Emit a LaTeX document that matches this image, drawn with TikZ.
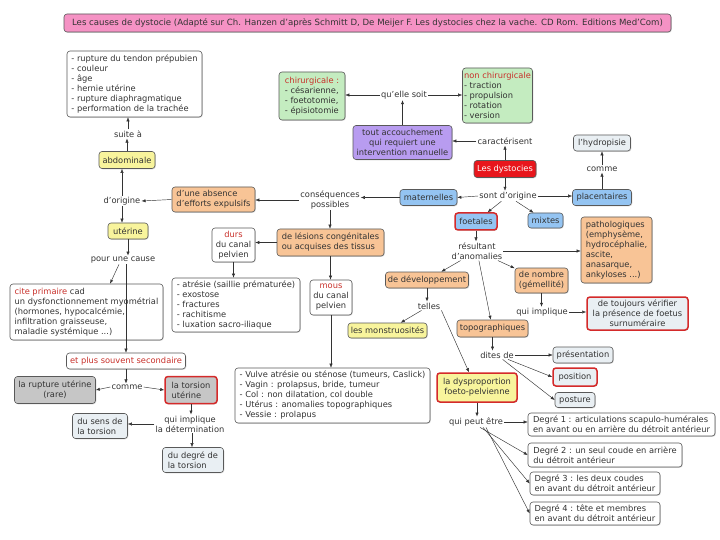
\documentclass[tikz,border=0pt]{standalone}
\usepackage{fontspec}
\setmainfont{DejaVu Sans}
\usetikzlibrary{arrows.meta,shadows}
\definecolor{cyel}{HTML}{F8F49C}
\definecolor{cora}{HTML}{F8C496}
\definecolor{cblu}{HTML}{94C4F2}
\definecolor{cgre}{HTML}{C4ECC0}
\definecolor{cpur}{HTML}{B89CF0}
\definecolor{cred}{HTML}{E8161C}
\definecolor{clig}{HTML}{E9EFF3}
\definecolor{cgra}{HTML}{C6C6C6}
\definecolor{cpink}{HTML}{F592C4}
\definecolor{ctxt}{HTML}{333333}
\definecolor{rtxt}{HTML}{C8302A}
\definecolor{rbrd}{HTML}{D42A2A}
\begin{document}
\begin{tikzpicture}[x=1pt,y=-1pt,
 font=\fontsize{8.3}{10}\selectfont, text=ctxt,
 box/.style={draw=black!65, line width=0.6pt, rounded corners=3pt, inner sep=1.5pt, align=center, fill=white,
   drop shadow={shadow xshift=0.8pt, shadow yshift=-0.8pt, opacity=0.3}},
 lbox/.style={box, align=left},
 sz/.style 2 args={minimum width=#1pt, minimum height=#2pt},
 hot/.style={draw=rbrd, line width=1.5pt},
 lk/.style={inner sep=1pt, align=center},
 arr/.style={-{Latex[length=4pt,width=3.2pt]}, draw=black!80, line width=0.45pt},
]
\useasboundingbox (0,0) rectangle (720,540);
\fill[white] (0,0) rectangle (720,540);

% title
\node[box, fill=cpink, sz={607}{18}, font=\fontsize{8.6}{10}\selectfont] (title) at (367.5,23) {Les causes de dystocie (Adapté sur Ch. Hanzen d'après Schmitt D, De Meijer F. Les dystocies chez la vache. CD Rom. Editions Med'Com)};

% left column
\node[lbox, sz={135}{66}] (list1) at (134.5,84) {- rupture du tendon prépubien\\- couleur\\- âge\\- hernie utérine\\- rupture diaphragmatique\\- performation de la trachée};
\node[lk] (suite) at (128,134) {suite à};
\node[box, fill=cyel, sz={56}{17}] (abdo) at (127,160) {abdominale};
\node[lk] (origine) at (122,201) {d'origine};
\node[box, fill=cyel, sz={40}{16}] (uterine) at (128,231) {utérine};
\node[lk] (cause) at (123,260) {pour une cause};
\node[lbox, sz={153}{56}] (cite) at (86.5,312) {\textcolor{rtxt}{cite primaire} cad\\un dysfonctionnement myométrial\\(hormones, hypocalcémie,\\infiltration graisseuse,\\maladie systémique ...)};
\node[box, sz={119}{16}] (second) at (126,361) {\textcolor{rtxt}{et plus souvent secondaire}};
\node[box, fill=cgra, sz={81}{27}] (rupture) at (55,390) {la rupture utérine\\(rare)};
\node[lk] (comme1) at (127,387) {comme};
\node[lbox, fill=cgra, hot, sz={52}{27}] (torsion) at (191,390) {la torsion\\utérine};
\node[lk] (impl1) at (190,424) {qui implique\\la détermination};
\node[lbox, fill=clig, sz={55}{25}] (sens) at (100,426) {du sens de\\la torsion};
\node[lbox, fill=clig, sz={61}{25}] (degre) at (193,460) {du degré de\\la torsion};

% middle
\node[lbox, fill=cora, sz={83}{25}] (absence) at (213.5,199.5) {d'une absence\\d'efforts expulsifs};
\node[lk] (conseq) at (330,200) {conséquences\\possibles};
\node[lbox, fill=cora, sz={107}{27}] (lesions) at (330.5,242.5) {de lésions congénitales\\ou acquises des tissus};
\node[box, sz={43}{34}] (durs) at (233.5,245) {\textcolor{rtxt}{durs}\\du canal\\pelvien};
\node[lbox, sz={128}{54}] (atresie) at (236,305) {- atrésie (saillie prématurée)\\- exostose\\- fractures\\- rachitisme\\- luxation sacro-iliaque};
\node[box, sz={42}{35}] (mous) at (331,297.5) {\textcolor{rtxt}{mous}\\du canal\\pelvien};
\node[lbox, sz={195}{55}] (vulve) at (332.5,395.5) {- Vulve atrésie ou sténose (tumeurs, Caslick)\\- Vagin : prolapsus, bride, tumeur\\- Col : non dilatation, col double\\- Utérus : anomalies topographiques\\- Vessie : prolapus};

% top
\node[lbox, fill=cgre, sz={66}{48}] (chir) at (312,96) {\textcolor{rtxt}{chirurgicale :}\\- césarienne,\\- foetotomie,\\- épisiotomie};
\node[lk] (quelle) at (404,95) {qu'elle soit};
\node[lbox, fill=cgre, sz={65}{55}] (nonchir) at (497.5,95.5) {\textcolor{rtxt}{non chirurgicale}\\- traction\\- propulsion\\- rotation\\- version};
\node[box, fill=cpur, sz={99}{34}] (tout) at (402.5,142.5) {tout accouchement\\qui requiert une\\intervention manuelle};
\node[lk] (caract) at (505,141) {caractérisent};
\node[box, fill=cred, text=white, sz={62}{17}] (dyst) at (505,169) {Les dystocies};
\node[box, fill=clig, sz={57}{16}] (hydro) at (602,143) {l'hydropisie};
\node[lk] (comme2) at (602,169) {comme};
\node[box, fill=cblu, sz={59}{16}] (placent) at (602,197.5) {placentaires};
\node[lk] (sontor) at (508,196) {sont d'origine};
\node[box, fill=cblu, sz={57}{16}] (matern) at (428.5,197.5) {maternelles};
\node[box, fill=cblu, hot, sz={42}{17}] (foet) at (476,221.5) {foetales};
\node[box, fill=cblu, sz={35}{15}] (mixtes) at (545.5,220.5) {mixtes};
\node[lk] (result) at (477,251) {résultant\\d'anomalies};
\node[lbox, fill=cora, sz={71}{66}] (patho) at (616.5,250) {pathologiques\\(emphysème,\\hydrocéphalie,\\ascite,\\anasarque,\\ankyloses ...)};
\node[box, fill=cora, sz={83}{16}] (devel) at (427,280) {de développement};
\node[box, fill=cora, sz={53}{25}] (nombre) at (541.5,280.5) {de nombre\\(gémellité)};
\node[lk] (telles) at (429,306) {telles};
\node[lk] (impl2) at (542,312) {qui implique};
\node[box, fill=clig, hot, sz={101}{33}] (verif) at (637.5,313.5) {de toujours vérifier\\la présence de foetus\\surnuméraire};
\node[box, fill=cyel, sz={79}{15}] (monstr) at (387.5,330.5) {les monstruosités};
\node[box, fill=cora, sz={71}{17}] (topo) at (492.5,328.5) {topographiques};
\node[lk] (dites) at (497,355) {dites de};
\node[box, fill=clig, sz={60}{16}] (present) at (583,355) {présentation};
\node[box, fill=clig, hot, sz={44}{18}] (position) at (575,377) {position};
\node[box, fill=clig, sz={40}{15}] (posture) at (575,400) {posture};
\node[box, fill=cyel, hot, sz={80}{29}] (dyspro) at (477,387.5) {la dysproportion\\foeto-pelvienne};
\node[lk] (peut) at (476,422) {qui peut être};
\node[lbox, sz={187}{23}] (d1) at (621.5,424.5) {Degré 1 : articulations scapulo-humérales\\en avant ou en arrière du détroit antérieur};
\node[lbox, sz={154}{24}] (d2) at (605,455) {Degré 2 : un seul coude en arrière\\du détroit antérieur};
\node[lbox, sz={130}{23}] (d3) at (595,483.5) {Degré 3 : les deux coudes\\en avant du détroit antérieur};
\node[lbox, sz={130}{23}] (d4) at (595,513.5) {Degré 4 : tête et membres\\en avant du détroit antérieur};

% connectors
\draw[arr] (abdo.north) -- (abdo.north |- suite.south);
\draw[arr] (suite.north) -- (suite.north |- list1.south);
\draw[arr] (origine.north) -- (origine.north |- abdo.south);
\draw[arr] (absence.west) -- (origine.east);
\draw[arr] (origine.south) -- (origine.south |- uterine.north);
\draw[arr] (uterine.south) -- (uterine.south |- cause.north);
\draw[arr] ([xshift=-4pt]cause.south) -- ([xshift=23.5pt]cite.north);
\draw[arr] (cause.south -| second.north) -- (second.north);
\draw[arr] (second.south) -- (second.south |- comme1.north);
\draw[arr] (comme1.west) -- (rupture.east);
\draw[arr] (comme1.east) -- (torsion.west);
\draw[arr] (torsion.south) -- (torsion.south |- impl1.north);
\draw[arr] (impl1.west) -- (impl1.west -| sens.east);
\draw[arr] ([xshift=2pt]impl1.south) -- ([xshift=2pt]impl1.south |- degre.north);
\draw[arr] (conseq.west) -- (conseq.west -| absence.east);
\draw[arr] (conseq.south) -- (conseq.south |- lesions.north);
\draw[arr] (lesions.west) -- (lesions.west -| durs.east);
\draw[arr] (durs.south) -- (durs.south |- atresie.north);
\draw[arr] (lesions.south) -- (lesions.south |- mous.north);
\draw[arr] (mous.south) -- (mous.south |- vulve.north);
\draw[arr] (matern.west) -- (matern.west -| conseq.east);
\draw[arr] (sontor.west) -- (matern.east);
\draw[arr] (sontor.east) -- (sontor.east -| placent.west);
\draw[arr] (sontor) -- (foet);
\draw[arr] (sontor) -- (mixtes);
\draw[arr] (dyst.south) -- (dyst.south |- sontor.north);
\draw[arr] (dyst.north) -- (dyst.north |- caract.south);
\draw[arr] (caract.west) -- (caract.west -| tout.east);
\draw[arr] (tout.north) -- (tout.north |- quelle.south);
\draw[arr] (quelle.west) -- (quelle.west -| chir.east);
\draw[arr] (quelle.east) -- (quelle.east -| nonchir.west);
\draw[arr] (placent.north) -- (placent.north |- comme2.south);
\draw[arr] (comme2.north) -- (comme2.north |- hydro.south);
\draw[arr] (foet.south) -- (foet.south |- result.north);
\draw[arr] (result) -- (devel);
\draw[arr] (result) -- (nombre);
\draw[arr] (result) -- (topo);
\draw[arr] (result.east) -- (result.east -| patho.west);
\draw[arr] (devel.south) -- (devel.south |- telles.north);
\draw[arr] (telles) -- (monstr);
\draw[arr] (telles.south east) -- ([xshift=-8pt]dyspro.north);
\draw[arr] (nombre.south) -- (nombre.south |- impl2.north);
\draw[arr] (impl2.east) -- (impl2.east -| verif.west);
\draw[arr] (topo.south) -- (topo.south |- dites.north);
\draw[arr] (dites.east) -- (dites.east -| present.west);
\draw[arr] (dites) -- (position.west);
\draw[arr] (dites) -- (posture.west);
\draw[arr] (dyspro.south) -- (dyspro.south |- peut.north);
\draw[arr] (peut.east) -- (peut.east -| d1.west);
\draw[arr] ([xshift=4pt]peut.south) -- (d2.west);
\draw[arr] ([xshift=7pt]peut.south) -- (d3.west);
\draw[arr] ([xshift=10pt]peut.south) -- (d4.west);
\end{tikzpicture}
\end{document}
